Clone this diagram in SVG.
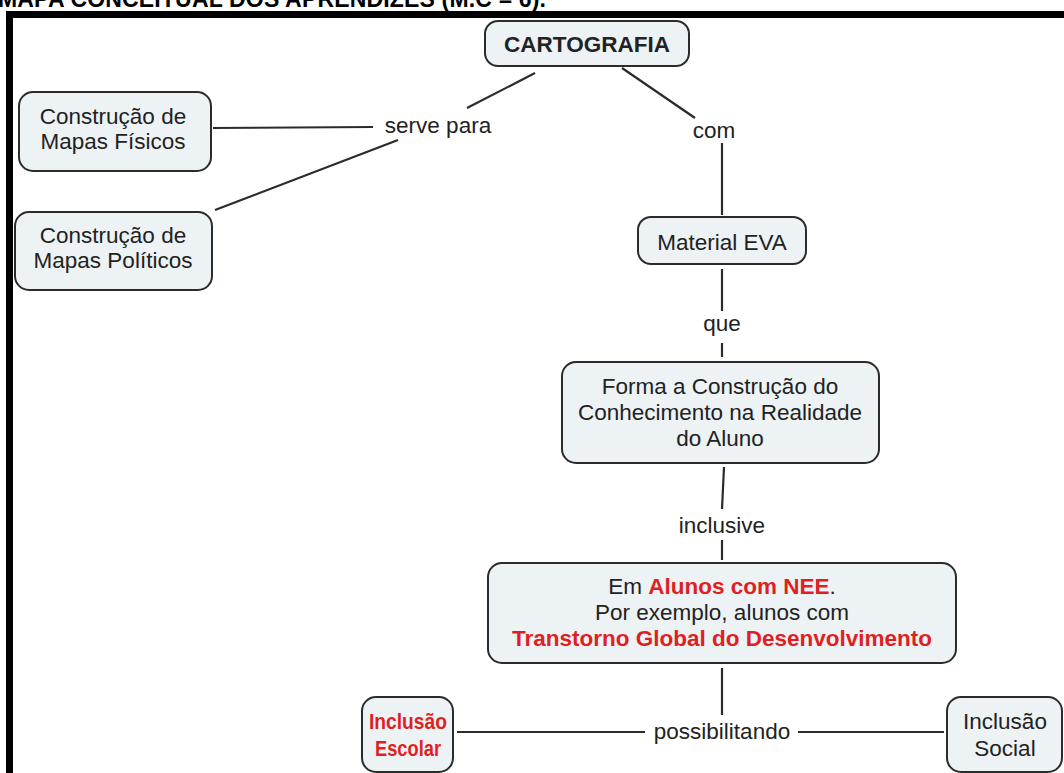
<svg xmlns="http://www.w3.org/2000/svg" width="1064" height="773" viewBox="0 0 1064 773">
<style>
.box{fill:#edf2f5;stroke:#2b2b2b;stroke-width:2}
.t{font-family:"Liberation Sans",Arial,sans-serif;font-size:22.5px;fill:#222;text-anchor:middle}
.b{font-weight:bold}
.r{fill:#e01f22;font-weight:bold}
.ln{stroke:#2b2b2b;stroke-width:2.2;fill:none}
</style>
<rect width="1064" height="773" fill="#fff"/>
<text x="-2" y="7" font-family="Liberation Sans,Arial,sans-serif" font-size="23" font-weight="bold" fill="#000" textLength="548">MAPA CONCEITUAL DOS APRENDIZES (M.C = 6).</text>
<rect x="6" y="11" width="1058" height="7" fill="#000"/>
<rect x="6" y="11" width="7" height="762" fill="#000"/>
<g id="connectors">
<line class="ln" x1="535" y1="73" x2="467" y2="108"/>
<line class="ln" x1="213" y1="128" x2="373" y2="127"/>
<line class="ln" x1="215" y1="210" x2="398" y2="140"/>
<text class="t" x="438" y="133">serve para</text>
<line class="ln" x1="622" y1="68" x2="695" y2="118"/>
<text class="t" x="714" y="138">com</text>
<line class="ln" x1="722" y1="143" x2="722" y2="215"/>
<line class="ln" x1="722" y1="269" x2="722" y2="311"/>
<text class="t" x="722" y="331">que</text>
<line class="ln" x1="722" y1="343" x2="722" y2="357"/>
<line class="ln" x1="724" y1="467" x2="722" y2="509"/>
<text class="t" x="722" y="533">inclusive</text>
<line class="ln" x1="722" y1="540" x2="722" y2="560"/>
<line class="ln" x1="722" y1="668" x2="722" y2="715"/>
<line class="ln" x1="457" y1="732" x2="645" y2="732"/>
<text class="t" x="722" y="739">possibilitando</text>
<line class="ln" x1="798" y1="732" x2="944" y2="732"/>
</g>
<g id="cartografia">
<rect class="box" x="485" y="21" width="204" height="45" rx="13"/>
<text class="t b" x="587" y="52">CARTOGRAFIA</text>
</g>
<g id="fisicos">
<rect class="box" x="19" y="92" width="192" height="79" rx="14"/>
<text class="t" x="113" y="124">Construção de</text>
<text class="t" x="113" y="149">Mapas Físicos</text>
</g>
<g id="politicos">
<rect class="box" x="15" y="212" width="197" height="78" rx="14"/>
<text class="t" x="113" y="243">Construção de</text>
<text class="t" x="113" y="268">Mapas Políticos</text>
</g>
<g id="eva">
<rect class="box" x="638" y="217" width="168" height="47" rx="13"/>
<text class="t" x="722" y="250">Material EVA</text>
</g>
<g id="forma">
<rect class="box" x="562" y="362" width="317" height="101" rx="14"/>
<text class="t" x="720" y="394">Forma a Construção do</text>
<text class="t" x="720" y="420">Conhecimento na Realidade</text>
<text class="t" x="720" y="446">do Aluno</text>
</g>
<g id="nee">
<rect class="box" x="488" y="563" width="468" height="100" rx="14"/>
<text class="t" x="722" y="594">Em <tspan class="r">Alunos com NEE</tspan>.</text>
<text class="t" x="722" y="620">Por exemplo, alunos com</text>
<text class="t r" x="722" y="646">Transtorno Global do Desenvolvimento</text>
</g>
<g id="escolar">
<rect class="box" x="362" y="697" width="91" height="75" rx="14"/>
<text class="t r" x="408" y="729" textLength="78" lengthAdjust="spacingAndGlyphs">Inclusão</text>
<text class="t r" x="408" y="756" textLength="66" lengthAdjust="spacingAndGlyphs">Escolar</text>
</g>
<g id="social">
<rect class="box" x="947" y="697" width="115" height="75" rx="14"/>
<text class="t" x="1005" y="729">Inclusão</text>
<text class="t" x="1005" y="756">Social</text>
</g>
</svg>
